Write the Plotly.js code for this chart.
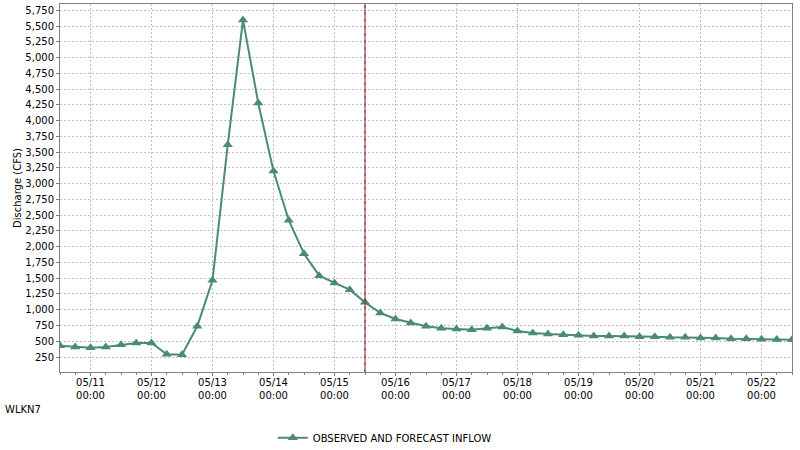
<!DOCTYPE html>
<html>
<head>
<meta charset="utf-8">
<script src="https://cdn.plot.ly/plotly-3.0.1.min.js"></script>
<style>html,body{margin:0;padding:0;background:#fff;}#chart{width:800px;height:450px;}</style>
</head>
<body>
<div id="chart"></div>
<script>
// Data: 6-hourly observed and forecast inflow (CFS)
const startTime = "2024-05-10T12:00:00";
const stepHours = 6;
const inflow = [
  430, 409, 395, 409, 446, 473, 473, 292, 287, 737,
  1467, 3620, 5600, 4280, 3200, 2420, 1890, 1541, 1425, 1319,
  1117, 949, 853, 790, 737, 705, 695, 684, 705, 727,
  663, 631, 615, 604, 594, 584, 584, 584, 573, 573,
  562, 562, 552, 552, 541, 541, 530, 529, 525
];
const seriesName = "OBSERVED AND FORECAST INFLOW";
const stationId = "WLKN7";
const yTitle = "Discharge (CFS)";
const nowTime = "2024-05-15 12:00";
const xRange = ["2024-05-10 12:00", "2024-05-22 12:00"];
const yRange = [12, 5852];

function pad(n){return (n<10?"0":"")+n;}
const t0 = new Date(startTime + "Z").getTime();
const times = inflow.map((_, i) => {
  const d = new Date(t0 + i * stepHours * 3600000);
  return d.getUTCFullYear() + "-" + pad(d.getUTCMonth()+1) + "-" + pad(d.getUTCDate()) + " " + pad(d.getUTCHours()) + ":00";
});

const color = "#4b8a74";
const font = {family: "DejaVu Sans, sans-serif", size: 10, color: "#000"};

const trace = {
  x: times, y: inflow, type: "scatter", mode: "lines+markers",
  name: seriesName,
  line: {color: color, width: 2},
  marker: {symbol: "triangle-up", size: 9, color: color},
  showlegend: true
};

const layout = {
  width: 800, height: 450,
  margin: {l: 60, r: 8, t: 4, b: 78},
  paper_bgcolor: "#fff", plot_bgcolor: "#fff",
  font: font,
  xaxis: {
    type: "date", range: xRange,
    tick0: "2024-05-11", dtick: 86400000,
    tickformat: "%m/%d<br>%H:%M",
    ticks: "outside", ticklen: 3, tickcolor: "#808080",
    ticklabelstandoff: -2,
    showline: true, linecolor: "#808080", linewidth: 1, mirror: true,
    showgrid: true, gridcolor: "#c0c0c0", griddash: "2px,2px", gridwidth: 1,
    minor: {dtick: 21600000, ticks: "outside", ticklen: 2, tickcolor: "#808080", showgrid: false},
    zeroline: false, tickfont: font
  },
  yaxis: {
    range: yRange, tick0: 0, dtick: 250, tickformat: ",d",
    ticks: "outside", ticklen: 3, tickcolor: "#808080",
    showline: true, linecolor: "#808080", linewidth: 1, mirror: true,
    showgrid: true, gridcolor: "#c0c0c0", griddash: "2px,2px", gridwidth: 1,
    zeroline: false, tickfont: font,
    title: {text: yTitle, font: font, standoff: 1}
  },
  shapes: [
    {type: "line", xref: "x", yref: "paper", x0: nowTime, x1: nowTime, y0: 0, y1: 1,
     line: {color: "#b01010", width: 1}},
    {type: "line", xref: "x", yref: "paper", x0: nowTime, x1: nowTime, y0: 0, y1: 1,
     line: {color: "#505060", width: 1, dash: "3px,4px"}}
  ],
  annotations: [
    {text: stationId, xref: "paper", yref: "paper", x: -57/732, y: -37/368,
     xanchor: "left", yanchor: "middle", showarrow: false, font: font}
  ],
  showlegend: true,
  legend: {
    orientation: "h", xref: "container", yref: "container",
    x: 0.341, y: 0.027, xanchor: "left", yanchor: "middle",
    font: font, bgcolor: "rgba(0,0,0,0)"
  }
};

Plotly.newPlot("chart", [trace], layout, {displayModeBar: false, staticPlot: true});
</script>
</body>
</html>
